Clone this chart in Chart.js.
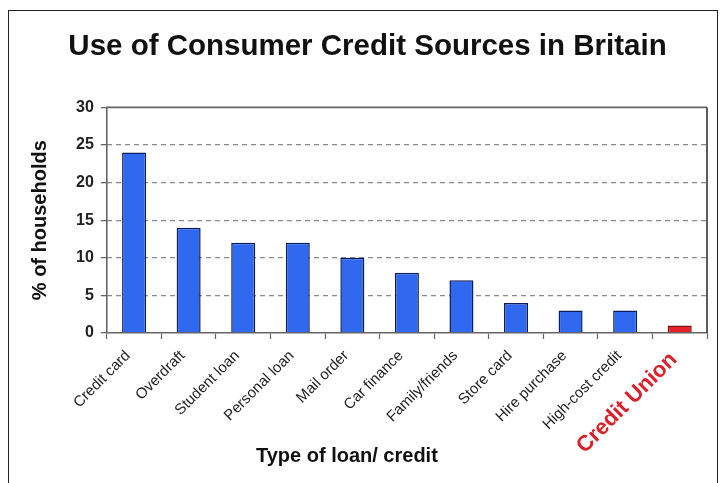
<!DOCTYPE html>
<html>
<head>
<meta charset="utf-8">
<script src="https://cdn.jsdelivr.net/npm/chart.js@4.4.0/dist/chart.umd.min.js"></script>
<style>
  html, body { margin: 0; padding: 0; background: #fff; }
  #wrap { position: relative; width: 720px; height: 483px; }
  #frame { position: absolute; left: 8px; top: 10px; width: 708px; height: 480px;
           border-left: 1px solid #222; border-top: 1px solid #222; border-right: 1px solid #222; }
  canvas { position: absolute; left: 0; top: 0; }
</style>
</head>
<body>
<div id="wrap">
  <div id="frame"></div>
  <canvas id="myChart" width="720" height="483"></canvas>
</div>
<script>
// Chart data
const categories = ["Credit card", "Overdraft", "Student loan", "Personal loan", "Mail order",
  "Car finance", "Family/friends", "Store card", "Hire purchase", "High-cost credit", "Credit Union"];
const households = [24, 14, 12, 12, 10, 8, 7, 4, 3, 3, 1];
const yTicks = [0, 5, 10, 15, 20, 25, 30];
const xAxisTitle = "Type of loan/ credit";

const highlight = "Credit Union";
const barColors = categories.map(c => c === highlight ? "#e52229" : "#3068f0");
const edgeColors = categories.map(c => c === highlight ? "#7a1016" : "#0c1d5c");

// left / top / right lines of the plot box
const plotFrame = {
  id: "plotFrame",
  afterDatasetsDraw(chart) {
    const { ctx, chartArea: a } = chart;
    ctx.save();
    ctx.lineWidth = 1.6;
    ctx.strokeStyle = "#666";
    ctx.beginPath();
    ctx.moveTo(a.left, a.bottom);
    ctx.lineTo(a.left, a.top);
    ctx.lineTo(a.right, a.top);
    ctx.stroke();
    ctx.strokeStyle = "#333";
    ctx.beginPath();
    ctx.moveTo(a.right, a.top);
    ctx.lineTo(a.right, a.bottom);
    ctx.stroke();
    ctx.restore();
  }
};

// x axis caption, sits a little left of centre like the original
const xCaption = {
  id: "xCaption",
  afterDraw(chart) {
    const { ctx, chartArea: a } = chart;
    ctx.save();
    ctx.font = "bold 20px 'Liberation Sans'";
    ctx.fillStyle = "#111";
    ctx.textAlign = "center";
    ctx.textBaseline = "middle";
    ctx.fillText(xAxisTitle, a.left + (a.right - a.left) * 0.4, a.bottom + 123);
    ctx.restore();
  }
};

const ctx = document.getElementById("myChart");
const myChart = new Chart(ctx, {
  type: "bar",
  data: {
    labels: categories,
    datasets: [
      {
        label: "% of households",
        data: households,
        backgroundColor: barColors,
        borderColor: edgeColors,
        borderWidth: 1.5,
        barPercentage: 0.88,
        categoryPercentage: 0.5,
      },
    ],
  },
  options: {
    responsive: false,
    animation: false,
    layout: { padding: { left: 28, right: 13, top: 0, bottom: 20 } },
    plugins: {
      legend: { display: false },
      tooltip: { enabled: false },
      title: {
        display: true,
        text: "Use of Consumer Credit Sources in Britain",
        color: "#111",
        font: { family: "Liberation Sans", size: 29.5, weight: "bold" },
        padding: { top: 29, bottom: 43 },
      },
    },
    scales: {
      x: {
        afterFit: axis => { axis.height = 130; },
        grid: {
          display: true,
          drawOnChartArea: false,
          offset: true,
          tickLength: 6,
          tickColor: "#666",
          tickWidth: 1.2,
        },
        border: { display: true, color: "#666", width: 1.6 },
        ticks: {
          maxRotation: 45,
          minRotation: 45,
          autoSkip: false,
          padding: 8,
          labelOffset: -6,
          color: ctx => categories[ctx.index] === highlight ? "#dc1f28" : "#222",
          font: ctx => categories[ctx.index] === highlight
            ? { family: "Liberation Sans", size: 22, weight: "bold" }
            : { family: "Liberation Sans", size: 15 },
        },
      },
      y: {
        min: 0,
        max: 30,
        afterBuildTicks: axis => { axis.ticks = yTicks.map(v => ({ value: v })); },
        grid: {
          color: c => (c.tick && (c.tick.value === 0 || c.tick.value === 30)) ? "rgba(0,0,0,0)" : "#8a8a8a",
          lineWidth: 1.3,
          tickLength: 6,
          tickColor: "#666",
          tickBorderDash: [],
        },
        border: { display: false, dash: [5, 4] },
        ticks: {
          color: "#222",
          padding: 7,
          font: { family: "Liberation Sans", size: 16, weight: "bold" },
        },
        title: {
          display: true,
          text: "% of households",
          color: "#111",
          font: { family: "Liberation Sans", size: 20, weight: "bold" },
          padding: { top: 0, bottom: 17 },
        },
      },
    },
  },
  plugins: [plotFrame, xCaption],
});
</script>
</body>
</html>
